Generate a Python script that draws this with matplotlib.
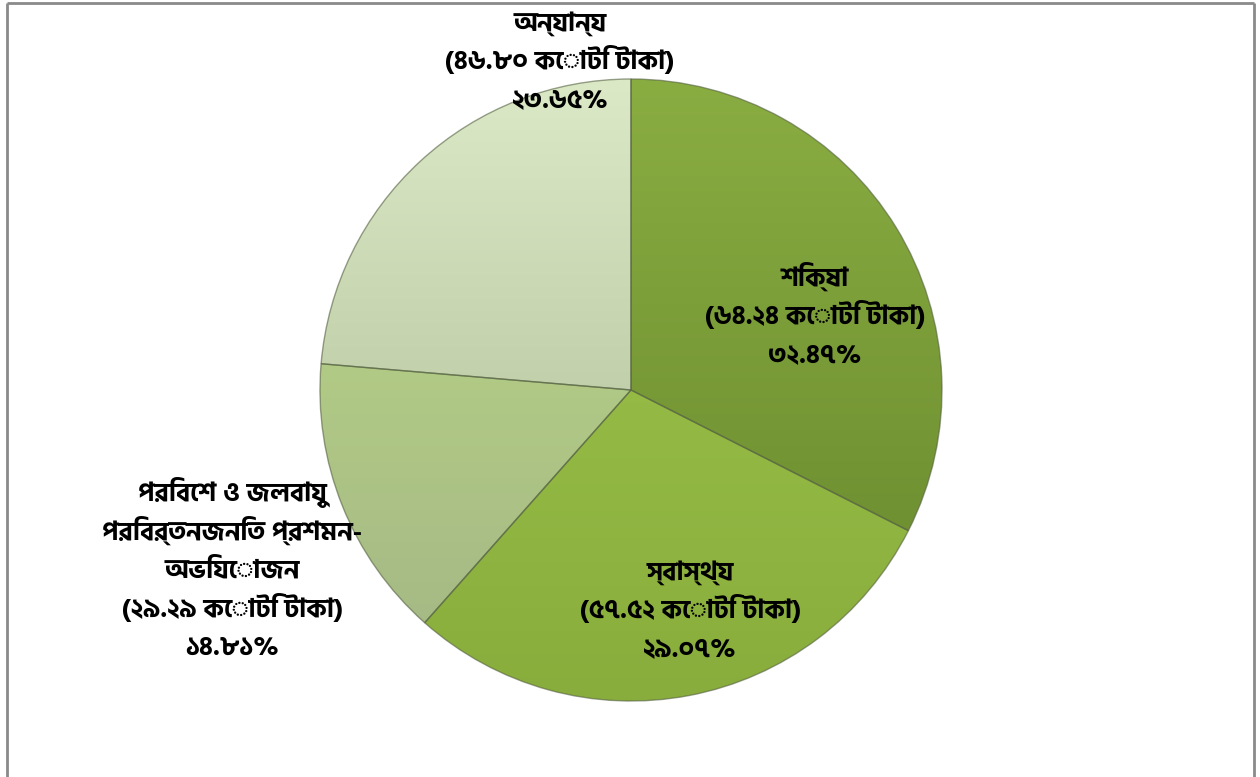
import matplotlib
matplotlib.use("Agg")
import matplotlib.pyplot as plt
import numpy as np
from matplotlib import font_manager
from matplotlib.colors import to_rgb

# ---------------- data ----------------
categories = ["শিক্ষা", "স্বাস্থ্য", "পরিবেশ ও জলবায়ু\nপরিবর্তনজনিত প্রশমন-\nঅভিযোজন", "অন্যান্য"]
values_crore = [64.24, 57.52, 29.29, 46.80]
percents = [32.47, 29.07, 14.81, 23.65]
unit_text = "কোটি টাকা"

# top / bottom colours of each slice's gradient
top_colors = ["#8aad42", "#a0c84e", "#bddc84", "#dce9c7"]
bottom_colors = ["#66862b", "#89ad3c", "#a3b586", "#a7b68e"]

# ---------------- font ----------------
def pick_bengali_font():
    from matplotlib.ft2font import FT2Font
    names = {}
    for fe in font_manager.fontManager.ttflist:
        try:
            cmap = FT2Font(fe.fname).get_charmap()
            if 0x0995 in cmap and 0x09E6 in cmap:
                names[fe.name] = True
        except Exception:
            pass
    for pref in ["Hind Siliguri", "Noto Sans Bengali", "Lohit Bengali", "FreeSans"]:
        if pref in names:
            return pref
    return next(iter(names), None)

bn = pick_bengali_font()
families = [bn, "DejaVu Sans"] if bn else ["DejaVu Sans"]
plt.rcParams["font.family"] = families

BN_DIGITS = str.maketrans("0123456789", "০১২৩৪৫৬৭৮৯")
def bn_num(v):
    return f"{v:.2f}".translate(BN_DIGITS)

# ---------------- figure ----------------
W, H = 1260, 777
fig = plt.figure(figsize=(W / 100, H / 100), dpi=100)
ax = fig.add_axes([0, 0, 1, 1])

cx, cy, R = 631, H - 390, 311

wedges, _ = ax.pie(values_crore, startangle=90, counterclock=False,
                   center=(cx, cy), radius=R, frame=True,
                   wedgeprops=dict(linewidth=1.0, edgecolor="#55603f"))

# gradient fill clipped to each wedge
n = 256
for w, tc, bc in zip(wedges, top_colors, bottom_colors):
    t = np.linspace(0, 1, n)[:, None]
    c0 = np.array(to_rgb(tc)); c1 = np.array(to_rgb(bc))
    img = (c0[None, None, :] * (1 - t[:, :, None]) + c1[None, None, :] * t[:, :, None])
    img = np.repeat(img, 2, axis=1)
    w.set_facecolor("none")
    im = ax.imshow(img, extent=(cx - R, cx + R, cy - R, cy + R), origin="upper",
                   aspect="auto", zorder=0.5, interpolation="bilinear")
    im.set_clip_path(w)
    w.set_zorder(1)
    w.set_edgecolor((0.33, 0.38, 0.25, 0.6))

# ---------------- labels ----------------
label_pos = [(815, 316), (690, 610), (232, 570), (560, 61)]
line_step = 38.5
for cat, v, p, (lx, ly) in zip(categories, values_crore, percents, label_pos):
    lines = cat.split("\n") + [f"({bn_num(v)} {unit_text})", f"{bn_num(p)}%"]
    k = len(lines)
    for i, line in enumerate(lines):
        yy = ly + (i - (k - 1) / 2) * line_step
        ax.text(lx, H - yy - 8, line, ha="center", va="baseline", fontsize=19,
                fontweight="bold", color="black", zorder=5)

# ---------------- border ----------------
bc_ = "#8a8a8a"
ax.plot([7, 7], [-5, H - 3], color=bc_, lw=2, solid_capstyle="butt", zorder=6)
ax.plot([7, 1254], [H - 3, H - 3], color=bc_, lw=2, solid_capstyle="butt", zorder=6)
ax.plot([1254, 1254], [-5, H - 3], color=bc_, lw=2, solid_capstyle="butt", zorder=6)

ax.set_xlim(0, W)
ax.set_ylim(0, H)
ax.set_aspect("auto")
ax.axis("off")

fig.savefig("out.png", dpi=100, facecolor="white")
